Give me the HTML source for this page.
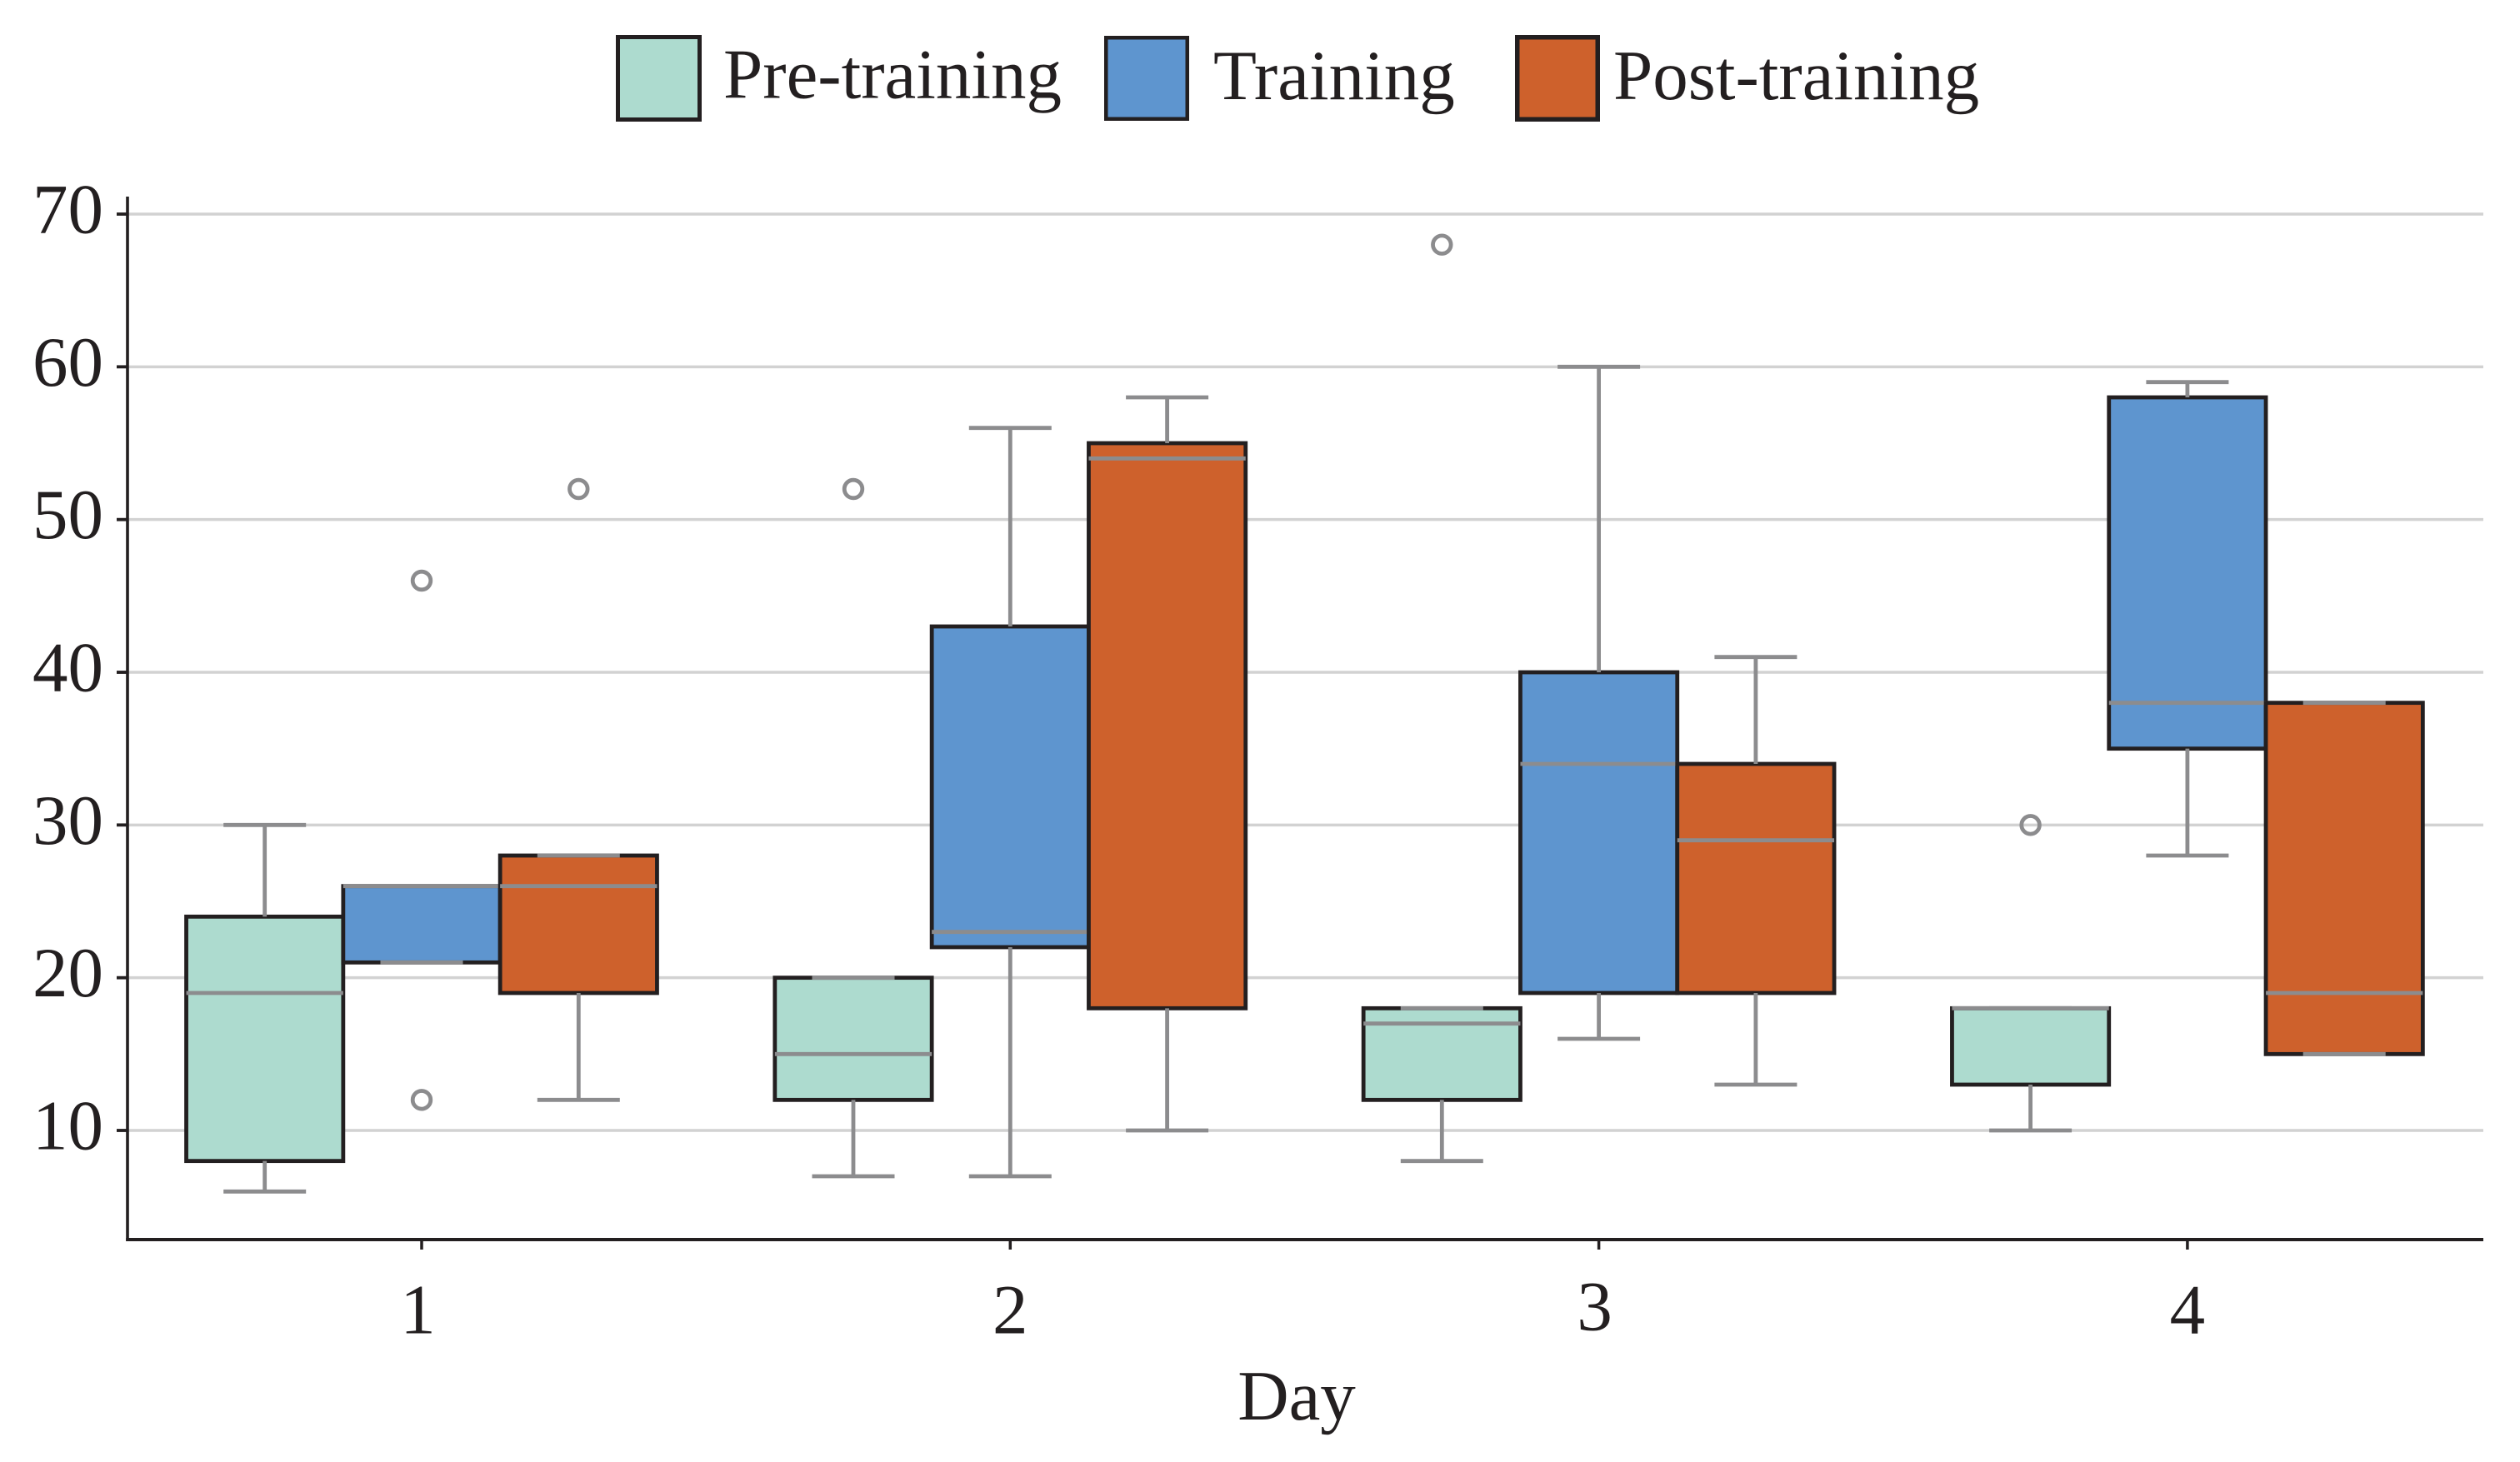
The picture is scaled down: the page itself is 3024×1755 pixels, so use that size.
<!DOCTYPE html>
<html lang="en">
<head>
<meta charset="utf-8">
<title>Box plot by day and training phase</title>
<style>
  html, body { margin: 0; padding: 0; background: #ffffff; }
  svg { display: block; }
  text { font-family: "Liberation Serif", serif; font-size: 85px; fill: #231f20; }
</style>
</head>
<body>
<svg id="chart" xmlns="http://www.w3.org/2000/svg" width="3024" height="1755" viewBox="0 0 3024 1755">
  <rect x="0" y="0" width="3024" height="1755" fill="#ffffff"/>
  <g id="grid"></g>
  <g id="boxes"></g>
  <g id="axes"></g>
  <g>
    <g>
      <rect x="741.5" y="44.5" width="98" height="99" fill="#addbcf" stroke="#231f20" stroke-width="5"/>
      <text x="868" y="117.5">Pre-training</text>
    </g>
    <g>
      <rect x="1327.25" y="45.25" width="97.5" height="97.5" fill="#5e95cf" stroke="#231f20" stroke-width="4.5"/>
      <text x="1456" y="119">Training</text>
    </g>
    <g>
      <rect x="1820.75" y="44.75" width="96.5" height="98.5" fill="#ce612c" stroke="#231f20" stroke-width="5.5"/>
      <text x="1936" y="119">Post-training</text>
    </g>
  </g>
</svg>
<script>
// Category and tick data
const days = ['1', '2', '3', '4'];
const yTicks = [10, 20, 30, 40, 50, 60, 70];
const seriesKeys = ['pre-training', 'training', 'post-training'];

// Each row per day: [whisker low, Q1, median, Q3, whisker high]
const preTrainingStats = [[6, 8, 19, 24, 30], [7, 12, 15, 20, 20], [8, 12, 17, 18, 18], [10, 13, 18, 18, 18]];
const trainingStats = [[21, 21, 26, 26, 26], [7, 22, 23, 43, 56], [16, 19, 34, 40, 60], [28, 35, 38, 58, 59]];
const postTrainingStats = [[12, 19, 26, 28, 28], [10, 18, 54, 55, 58], [13, 19, 29, 34, 41], [15, 15, 19, 38, 38]];

// Outliers per day
const preTrainingOutliers = [[], [52], [68], [30]];
const trainingOutliers = [[46, 12], [], [], []];
const postTrainingOutliers = [[52], [], [], []];

const allStats = [preTrainingStats, trainingStats, postTrainingStats];
const allOutliers = [preTrainingOutliers, trainingOutliers, postTrainingOutliers];
const seriesColors = ['#addbcf', '#5e95cf', '#ce612c'];

const NS = 'http://www.w3.org/2000/svg';
const INK = '#231f20';
const GRAY = '#8c8c8e';
const plotLeft = 153, plotRight = 2980, plotTop = 236, plotBottom = 1488;
const firstDayX = 506, daySpacing = 706.3, groupOffset = 188.3, boxWidth = 188.3, capWidth = 99;

function yScale(v) { return 1357 + (10 - v) * (1100 / 60); }
function xScale(dayIndex, seriesIndex) { return firstDayX + dayIndex * daySpacing + (seriesIndex - 1) * groupOffset; }
function xLabelDx(dayIndex) { return dayIndex === 0 ? -4.5 : dayIndex === 2 ? -5 : 0; }
function xLabelDy(dayIndex) { return dayIndex === 2 ? -4 : 0; }

function make(parent, tag, attrs) {
  const el = document.createElementNS(NS, tag);
  for (const k in attrs) el.setAttribute(k, attrs[k]);
  parent.appendChild(el);
  return el;
}
function line(parent, x1, y1, x2, y2, color, width) {
  return make(parent, 'line', { x1: x1, y1: y1, x2: x2, y2: y2, stroke: color, 'stroke-width': width });
}

const gridG = document.getElementById('grid');
const boxesG = document.getElementById('boxes');
const axesG = document.getElementById('axes');

yTicks.forEach(function (t) {
  const gl = line(gridG, plotLeft, yScale(t), plotRight, yScale(t), '#d2d2d2', 3.5);
  
  
});

allStats.forEach(function (stats, s) {
  stats.forEach(function (row, d) {
    const cx = xScale(d, s);
    const lo = row[0], q1 = row[1], med = row[2], q3 = row[3], hi = row[4];
    const g = make(boxesG, 'g', {});
    
    

    const box = make(g, 'rect', {
      x: cx - boxWidth / 2, y: yScale(q3), width: boxWidth, height: yScale(q1) - yScale(q3),
      fill: seriesColors[s], stroke: INK, 'stroke-width': 4.8
    });
    
    

    const wLow = line(g, cx, yScale(q1), cx, yScale(lo), GRAY, 4.8);
    
    

    const wHigh = line(g, cx, yScale(q3), cx, yScale(hi), GRAY, 4.8);
    
    

    const capLow = line(g, cx - capWidth / 2, yScale(lo), cx + capWidth / 2, yScale(lo), GRAY, 4.8);
    
    

    const capHigh = line(g, cx - capWidth / 2, yScale(hi), cx + capWidth / 2, yScale(hi), GRAY, 4.8);
    
    

    const median = line(g, cx - boxWidth / 2, yScale(med), cx + boxWidth / 2, yScale(med), GRAY, 4.8);
    
    

    allOutliers[s][d].forEach(function (v) {
      const o = make(g, 'circle', { cx: cx, cy: yScale(v), r: 10.8, fill: 'none', stroke: GRAY, 'stroke-width': 4.8 });
      
      
    });
  });
});

const yAxis = line(axesG, plotLeft, plotTop, plotLeft, plotBottom + 2, INK, 3.6);



const xAxis = line(axesG, plotLeft - 1.8, plotBottom, plotRight, plotBottom, INK, 4);



yTicks.forEach(function (t) {
  const y = yScale(t);
  const tick = line(axesG, plotLeft - 13, y, plotLeft, y, INK, 3.8);
  
  
  const label = make(axesG, 'text', { x: 124, y: y + 22.5, 'text-anchor': 'end' });
  label.textContent = String(t);
  
  
});

days.forEach(function (day, d) {
  const x = xScale(d, 1);
  const tick = line(axesG, x, plotBottom, x, plotBottom + 12, INK, 3.5);
  
  
  const label = make(axesG, 'text', { x: x + xLabelDx(d), y: 1600.5 + xLabelDy(d), 'text-anchor': 'middle' });
  label.textContent = day;
  
  
});

const xTitle = make(axesG, 'text', { x: 1556, y: 1704, 'text-anchor': 'middle' });
xTitle.textContent = 'Day';


</script>
</body>
</html>
